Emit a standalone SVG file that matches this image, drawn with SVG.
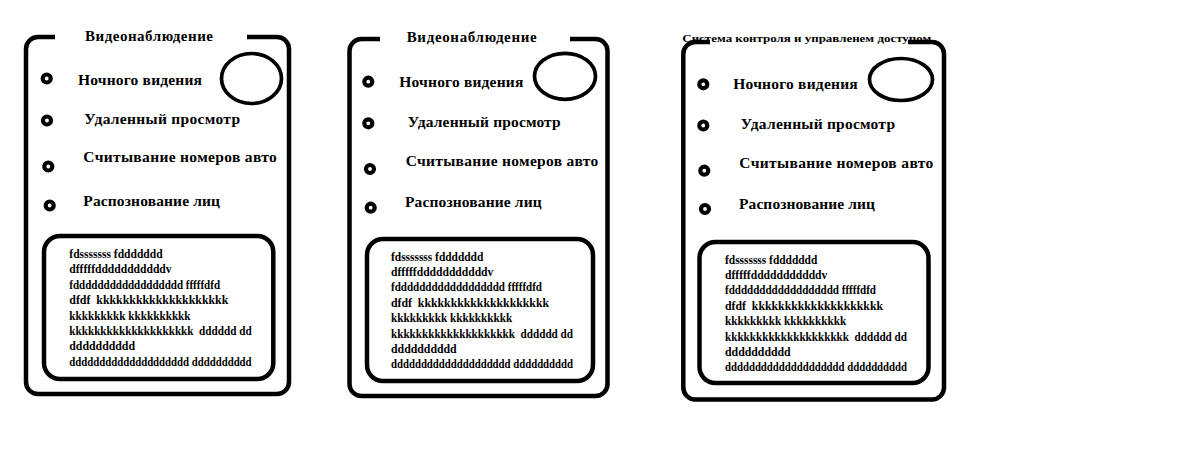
<svg xmlns="http://www.w3.org/2000/svg" width="1202" height="461" viewBox="0 0 1202 461">
<style>
.frame{fill:none;stroke:#000;stroke-width:4.5;stroke-linecap:butt}
.inner{fill:none;stroke:#000;stroke-width:4.5}
.lens{fill:none;stroke:#000;stroke-width:3.7}
.dot{fill:none;stroke:#000;stroke-width:4.2}
.title{font-family:"Liberation Serif","Times New Roman",serif;font-weight:bold;font-size:15px;fill:#000}
.small{font-family:"Liberation Serif","Times New Roman",serif;font-weight:bold;font-size:11px;fill:#000}
.lbl{font-family:"Liberation Serif","Times New Roman",serif;font-weight:bold;font-size:15.5px;fill:#000}
.body{font-family:"Liberation Serif","Times New Roman",serif;font-weight:bold;font-size:12px;fill:#000;white-space:pre}
</style>
<rect width="1202" height="461" fill="#fff"/>

<g id="card1">
<path class="frame" d="M55,37 H38 A12,12 0 0 0 26,49 V382 A12,12 0 0 0 38,394 H277 A12,12 0 0 0 289,382 V49 A12,12 0 0 0 277,37 H247"/>
<text class="title" x="85" y="41" textLength="128">Видеонаблюдение</text>
<ellipse class="lens" cx="251.5" cy="78.5" rx="30" ry="25"/>
<circle class="dot" cx="46.7" cy="78.5" r="4"/>
<circle class="dot" cx="47" cy="120.5" r="4"/>
<circle class="dot" cx="48.3" cy="166.5" r="4"/>
<circle class="dot" cx="49.7" cy="205.5" r="4"/>
<text class="lbl" x="78" y="85" textLength="124">Ночного видения</text>
<text class="lbl" x="84.3" y="124" textLength="155.7">Удаленный просмотр</text>
<text class="lbl" x="83.3" y="162" textLength="193.4">Считывание номеров авто</text>
<text class="lbl" x="83.3" y="205.5" textLength="136.7">Распознование лиц</text>
<rect class="inner" x="44" y="236" width="229.3" height="143" rx="16"/>
<g class="body">
<text x="69.3" y="258" textLength="93.3" lengthAdjust="spacingAndGlyphs">fdsssssss fddddddd</text>
<text x="69.3" y="273.4" textLength="102.3" lengthAdjust="spacingAndGlyphs">dfffffdddddddddddv</text>
<text x="69.3" y="288.8" textLength="150.7" lengthAdjust="spacingAndGlyphs">fdddddddddddddddddd fffffdfd</text>
<text x="69.3" y="304.2" textLength="159" lengthAdjust="spacingAndGlyphs">dfdf&#160; kkkkkkkkkkkkkkkkkkkk</text>
<text x="69.3" y="319.6" textLength="121.3" lengthAdjust="spacingAndGlyphs">kkkkkkkkk kkkkkkkkkk</text>
<text x="69.3" y="335" textLength="182.3" lengthAdjust="spacingAndGlyphs">kkkkkkkkkkkkkkkkkkkk&#160; dddddd dd</text>
<text x="69.3" y="350.4" textLength="65.7" lengthAdjust="spacingAndGlyphs">dddddddddd</text>
<text x="69.3" y="365.8" textLength="182.3" lengthAdjust="spacingAndGlyphs">dddddddddddddddddddd dddddddddd</text>
</g>
</g>

<g id="card2">
<path class="frame" d="M380,39 H361.5 A12,12 0 0 0 349.5,51 V384 A12,12 0 0 0 361.5,396 H595.5 A12,12 0 0 0 607.5,384 V51 A12,12 0 0 0 595.5,39 H570"/>
<text class="title" x="406.7" y="42.3" textLength="130">Видеонаблюдение</text>
<ellipse class="lens" cx="565" cy="76.3" rx="30.5" ry="23"/>
<circle class="dot" cx="368.3" cy="81.7" r="4"/>
<circle class="dot" cx="368.3" cy="123.3" r="4"/>
<circle class="dot" cx="370" cy="169" r="4"/>
<circle class="dot" cx="370.7" cy="207.7" r="4"/>
<text class="lbl" x="399.3" y="86.7" textLength="124">Ночного видения</text>
<text class="lbl" x="407.7" y="126.7" textLength="153">Удаленный просмотр</text>
<text class="lbl" x="405.7" y="165.7" textLength="192.6">Считывание номеров авто</text>
<text class="lbl" x="405" y="206.7" textLength="136.7">Распознование лиц</text>
<rect class="inner" x="367" y="239" width="226" height="142" rx="16"/>
<g class="body">
<text x="391" y="260.5" textLength="92.3" lengthAdjust="spacingAndGlyphs">fdsssssss fddddddd</text>
<text x="391" y="275.9" textLength="102.3" lengthAdjust="spacingAndGlyphs">dfffffdddddddddddv</text>
<text x="391" y="291.3" textLength="151" lengthAdjust="spacingAndGlyphs">fdddddddddddddddddd fffffdfd</text>
<text x="391" y="306.7" textLength="158" lengthAdjust="spacingAndGlyphs">dfdf&#160; kkkkkkkkkkkkkkkkkkkk</text>
<text x="391" y="322.1" textLength="121.3" lengthAdjust="spacingAndGlyphs">kkkkkkkkk kkkkkkkkkk</text>
<text x="391" y="337.5" textLength="182" lengthAdjust="spacingAndGlyphs">kkkkkkkkkkkkkkkkkkkk&#160; dddddd dd</text>
<text x="391" y="352.9" textLength="65.7" lengthAdjust="spacingAndGlyphs">dddddddddd</text>
<text x="391" y="368.3" textLength="182" lengthAdjust="spacingAndGlyphs">dddddddddddddddddddd dddddddddd</text>
</g>
</g>

<g id="card3">
<path class="frame" d="M710,42 H695.3 A12,12 0 0 0 683.3,54 V387.5 A12,12 0 0 0 695.3,399.5 H932 A12,12 0 0 0 944,387.5 V54 A12,12 0 0 0 932,42 H908"/>
<text class="small" x="682.3" y="41.7" textLength="249" lengthAdjust="spacingAndGlyphs">Система контроля и управленем доступом</text>
<ellipse class="lens" cx="901" cy="79.5" rx="31.5" ry="21"/>
<circle class="dot" cx="703.3" cy="84.3" r="4"/>
<circle class="dot" cx="703.3" cy="125.5" r="4"/>
<circle class="dot" cx="704.3" cy="170.7" r="4"/>
<circle class="dot" cx="705" cy="209" r="4"/>
<text class="lbl" x="733.3" y="89.3" textLength="124.4">Ночного видения</text>
<text class="lbl" x="740.7" y="129.3" textLength="154.3">Удаленный просмотр</text>
<text class="lbl" x="739.3" y="168" textLength="194">Считывание номеров авто</text>
<text class="lbl" x="739" y="209" textLength="136">Распознование лиц</text>
<rect class="inner" x="699.5" y="242" width="229" height="141" rx="16"/>
<g class="body">
<text x="725" y="263.5" textLength="92.3" lengthAdjust="spacingAndGlyphs">fdsssssss fddddddd</text>
<text x="725" y="278.9" textLength="102.3" lengthAdjust="spacingAndGlyphs">dfffffdddddddddddv</text>
<text x="725" y="294.3" textLength="151" lengthAdjust="spacingAndGlyphs">fdddddddddddddddddd fffffdfd</text>
<text x="725" y="309.7" textLength="158" lengthAdjust="spacingAndGlyphs">dfdf&#160; kkkkkkkkkkkkkkkkkkkk</text>
<text x="725" y="325.1" textLength="121.3" lengthAdjust="spacingAndGlyphs">kkkkkkkkk kkkkkkkkkk</text>
<text x="725" y="340.5" textLength="182" lengthAdjust="spacingAndGlyphs">kkkkkkkkkkkkkkkkkkkk&#160; dddddd dd</text>
<text x="725" y="355.9" textLength="65.7" lengthAdjust="spacingAndGlyphs">dddddddddd</text>
<text x="725" y="371.3" textLength="182" lengthAdjust="spacingAndGlyphs">dddddddddddddddddddd dddddddddd</text>
</g>
</g>
</svg>
